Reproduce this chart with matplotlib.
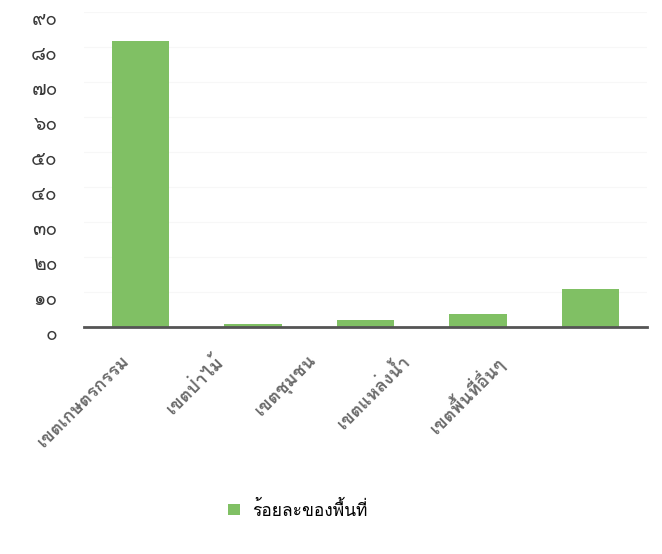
import matplotlib
matplotlib.use('Agg')
import matplotlib.pyplot as plt
import matplotlib.transforms as mtransforms
from matplotlib import font_manager
from matplotlib.ft2font import FT2Font

categories = ['เขตเกษตรกรรม', 'เขตป่าไม้', 'เขตชุมชน', 'เขตแหล่งน้ำ', 'เขตพื้นที่อื่นๆ']
values = [81.7, 0.9, 2.0, 3.7, 10.9]
yticks = [0, 10, 20, 30, 40, 50, 60, 70, 80, 90]
ytick_labels = ['๐', '๑๐', '๒๐', '๓๐', '๔๐', '๕๐', '๖๐', '๗๐', '๘๐', '๙๐']
series_name = 'ร้อยละของพื้นที่'


def find_thai_font():
    '''look through installed fonts for one that has thai letters and digits'''
    for f in font_manager.fontManager.ttflist:
        try:
            cmap = FT2Font(f.fname).get_charmap()
        except Exception:
            continue
        if 0x0E40 in cmap and 0x0E50 in cmap:
            return f.name
    return None


thai = find_thai_font()
families = [thai, 'DejaVu Sans'] if thai else ['DejaVu Sans']
plt.rcParams['font.family'] = families

bar_color = '#80c064'
axis_color = '#555555'
label_color = '#6a6a6a'

fig = plt.figure(figsize=(6.62, 5.54), dpi=100)
ax = fig.add_axes([0.127, 0.41, 0.85, 0.568])

x = list(range(len(categories)))
bars = ax.bar(x, values, width=0.51, color=bar_color, label=series_name, zorder=3)

ax.set_xlim(-0.5, 4.5)
ax.set_ylim(0, 90)
ax.set_yticks(yticks)
ax.set_yticklabels(ytick_labels, fontsize=14, color='#3a3a3a')
ax.yaxis.grid(True, color='#f7f7f7', linewidth=0.8, zorder=0)

ax.set_xticks(x)
ax.set_xticklabels(categories, rotation=45, ha='right', va='top', rotation_mode='anchor',
                   fontsize=13, fontweight='bold', color=label_color)

for side in ['top', 'right', 'left']:
    ax.spines[side].set_visible(False)
ax.spines['bottom'].set_color(axis_color)
ax.spines['bottom'].set_linewidth(2)
ax.spines['bottom'].set_zorder(4)
ax.tick_params(axis='y', length=0, pad=19)
ax.tick_params(axis='x', length=0, pad=18)

# the scanned chart has its y labels a bit low and the category labels drifting left
for lab in ax.get_yticklabels():
    lab.set_transform(lab.get_transform() +
                      mtransforms.ScaledTranslation(0, -0.06, fig.dpi_scale_trans))
for i, lab in enumerate(ax.get_xticklabels()):
    shift = -(0.20 + 0.19 * i)
    lab.set_transform(lab.get_transform() +
                      mtransforms.ScaledTranslation(shift, 0, fig.dpi_scale_trans))

fig.legend(handles=[bars], labels=[series_name], loc='center',
           bbox_to_anchor=(0.45, 0.079), frameon=False, fontsize=12.5,
           handlelength=0.65, handleheight=0.65, handletextpad=0.7)

fig.savefig('out.png', dpi=100, facecolor='white')
